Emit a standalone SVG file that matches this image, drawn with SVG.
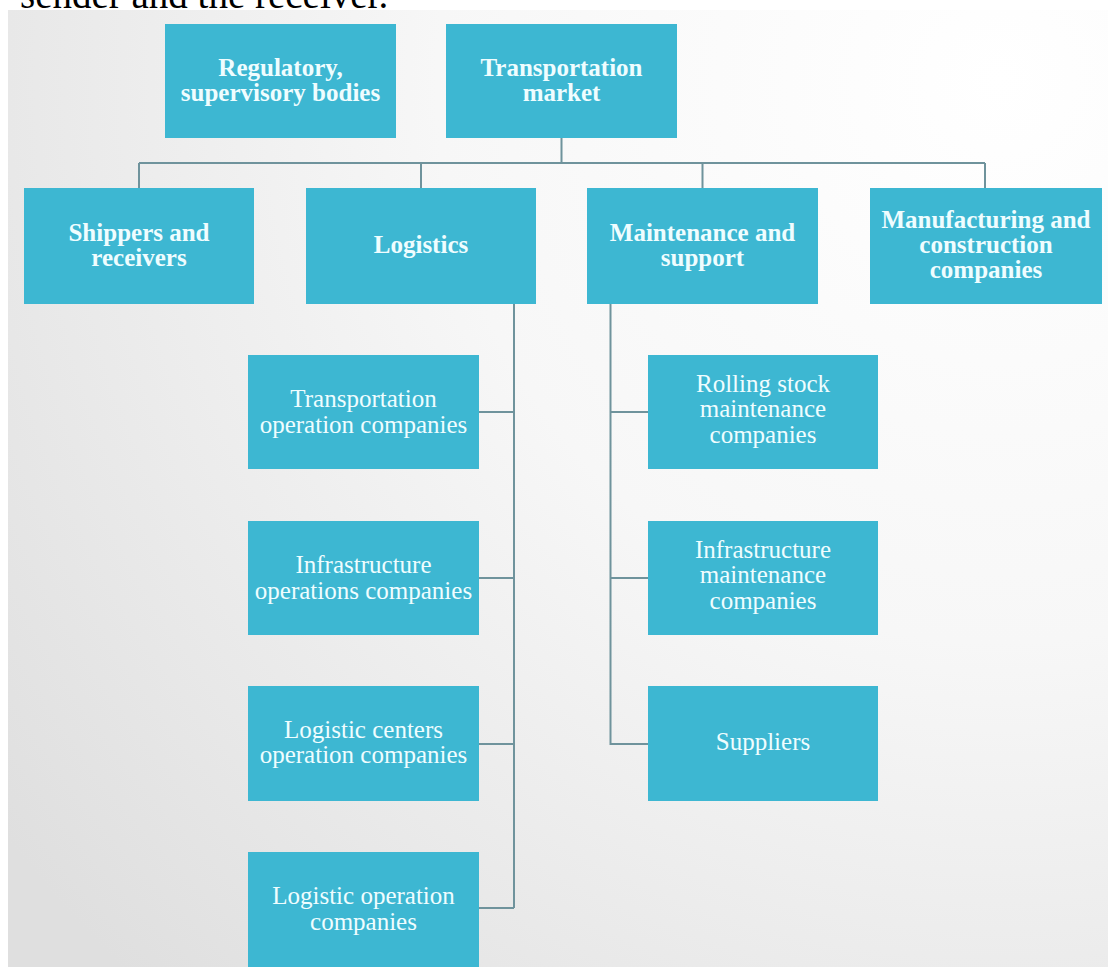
<svg xmlns="http://www.w3.org/2000/svg" width="1108" height="967" viewBox="0 0 1108 967">
<defs>
<radialGradient id="bg" gradientUnits="userSpaceOnUse" cx="1000" cy="80" r="1250">
<stop offset="0" stop-color="#ffffff"/>
<stop offset="0.45" stop-color="#f7f7f7"/>
<stop offset="1" stop-color="#dfdfdf"/>
</radialGradient>
<style>
.box{fill:#3db7d2;}
.b{font-family:"Liberation Serif","Times New Roman",serif;font-weight:bold;font-size:25px;fill:#effdff;text-anchor:middle;}
.r{font-family:"Liberation Serif","Times New Roman",serif;font-size:25px;fill:#effdff;text-anchor:middle;}
.ln{stroke:#6f939c;stroke-width:2;fill:none;}
.top{font-family:"Liberation Serif","Times New Roman",serif;font-size:39px;fill:#000;}
</style>
</defs>
<rect x="0" y="0" width="1108" height="967" fill="#ffffff"/>
<text class="top" x="20" y="8">sender and the receiver.</text>
<rect x="8" y="10" width="1100" height="957" fill="url(#bg)"/>

<g id="connectors">
<path class="ln" d="M561.5 138 V163 M139 163 H985 M139 163 V188 M421 163 V188 M702.5 163 V188 M985 163 V188"/>
<path class="ln" d="M514 304 V908 M479 412 H514 M479 578 H514 M479 744 H514 M479 908 H514"/>
<path class="ln" d="M610.5 304 V744 H648 M610.5 412 H648 M610.5 578 H648"/>
</g>

<g id="regulatory">
<rect class="box" x="165" y="24" width="231" height="114"/>
<text class="b" x="280.5" y="76">Regulatory,</text>
<text class="b" x="280.5" y="101">supervisory bodies</text>
</g>
<g id="transportation-market">
<rect class="box" x="446" y="24" width="231" height="114"/>
<text class="b" x="561.5" y="76">Transportation</text>
<text class="b" x="561.5" y="101">market</text>
</g>

<g id="shippers">
<rect class="box" x="24" y="188" width="230" height="116"/>
<text class="b" x="139" y="241">Shippers and</text>
<text class="b" x="139" y="266">receivers</text>
</g>
<g id="logistics">
<rect class="box" x="306" y="188" width="230" height="116"/>
<text class="b" x="421" y="253">Logistics</text>
</g>
<g id="maintenance">
<rect class="box" x="587" y="188" width="231" height="116"/>
<text class="b" x="702.5" y="241">Maintenance and</text>
<text class="b" x="702.5" y="266">support</text>
</g>
<g id="manufacturing">
<rect class="box" x="870" y="188" width="232" height="116"/>
<text class="b" x="986" y="228">Manufacturing and</text>
<text class="b" x="986" y="253">construction</text>
<text class="b" x="986" y="278">companies</text>
</g>

<g id="transport-ops">
<rect class="box" x="248" y="355" width="231" height="114"/>
<text class="r" x="363.5" y="407">Transportation</text>
<text class="r" x="363.5" y="433">operation companies</text>
</g>
<g id="infra-ops">
<rect class="box" x="248" y="521" width="231" height="114"/>
<text class="r" x="363.5" y="573">Infrastructure</text>
<text class="r" x="363.5" y="599">operations companies</text>
</g>
<g id="logistic-centers">
<rect class="box" x="248" y="686" width="231" height="115"/>
<text class="r" x="363.5" y="738">Logistic centers</text>
<text class="r" x="363.5" y="763">operation companies</text>
</g>
<g id="logistic-ops">
<rect class="box" x="248" y="852" width="231" height="115"/>
<text class="r" x="363.5" y="904">Logistic operation</text>
<text class="r" x="363.5" y="930">companies</text>
</g>

<g id="rolling-stock">
<rect class="box" x="648" y="355" width="230" height="114"/>
<text class="r" x="763" y="391.5">Rolling stock</text>
<text class="r" x="763" y="417">maintenance</text>
<text class="r" x="763" y="442.5">companies</text>
</g>
<g id="infra-maint">
<rect class="box" x="648" y="521" width="230" height="114"/>
<text class="r" x="763" y="557.5">Infrastructure</text>
<text class="r" x="763" y="583">maintenance</text>
<text class="r" x="763" y="608.5">companies</text>
</g>
<g id="suppliers">
<rect class="box" x="648" y="686" width="230" height="115"/>
<text class="r" x="763" y="750">Suppliers</text>
</g>
</svg>
